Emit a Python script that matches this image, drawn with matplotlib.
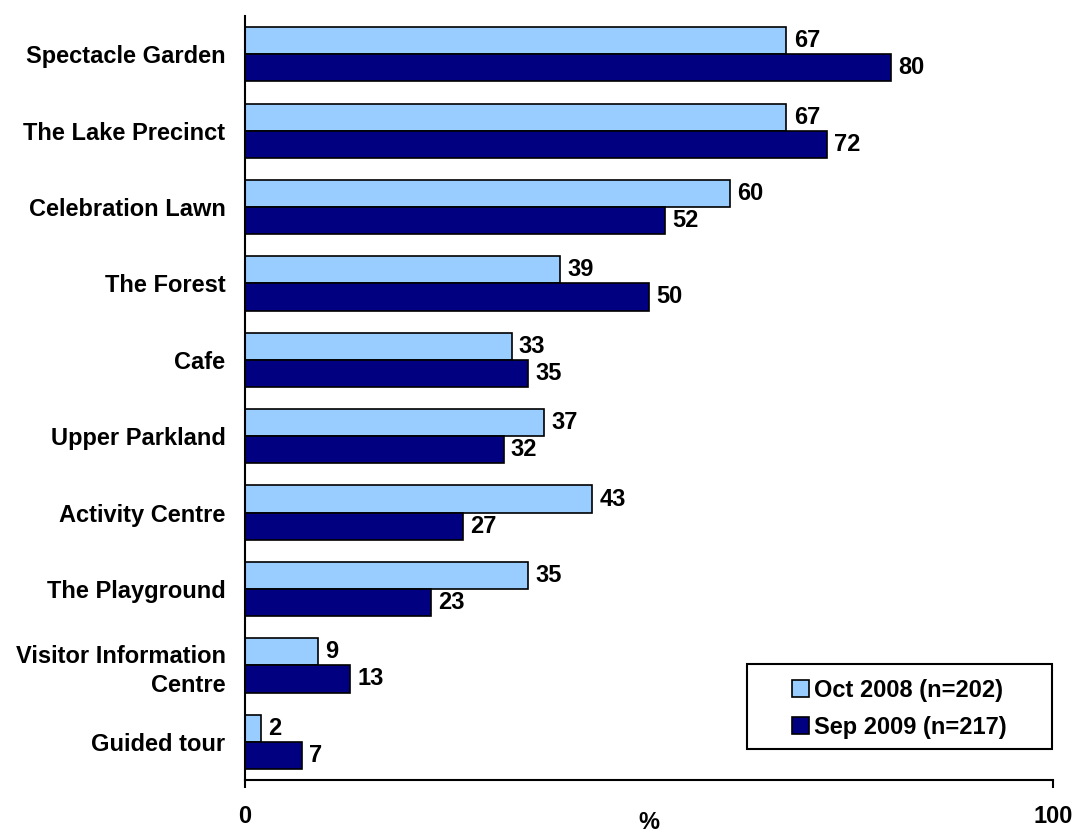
import numpy as np
import matplotlib
matplotlib.use("Agg")
from matplotlib import pyplot as plt
from matplotlib.patches import Rectangle

plt.rcParams['font.family'] = ['Liberation Sans', 'DejaVu Sans']
plt.rcParams['font.weight'] = 'bold'

# Areas visited, two survey waves
areas = ["Spectacle Garden", "The Lake Precinct", "Celebration Lawn", "The Forest",
         "Cafe", "Upper Parkland", "Activity Centre", "The Playground",
         "Visitor Information\nCentre", "Guided tour"]
oct_2008 = [67, 67, 60, 39, 33, 37, 43, 35, 9, 2]
sep_2009 = [80, 72, 52, 50, 35, 32, 27, 23, 13, 7]
series_names = ["Oct 2008 (n=202)", "Sep 2009 (n=217)"]

fs = 17
fig = plt.figure(figsize=(10.73, 8.35), dpi=100)
ax = fig.add_axes([0.2283, 0.0659, 0.7531, 0.9149])

y = np.arange(len(areas))
h = 0.355
b1 = ax.barh(y - h / 2, oct_2008, height=h, color='#99CCFF', edgecolor='black',
             linewidth=1.2, label=series_names[0])
b2 = ax.barh(y + h / 2, sep_2009, height=h, color='#000080', edgecolor='black',
             linewidth=1.2, label=series_names[1])

for bars, vals in ((b1, oct_2008), (b2, sep_2009)):
    for rect, v in zip(bars, vals):
        ax.text(v + 0.9, rect.get_y() + rect.get_height() / 2, str(v),
                va='center', ha='left', fontsize=fs, fontweight='bold')

ax.set_xlim(0, 100)
ax.set_ylim(len(areas) - 0.5, -0.5)
ax.set_yticks(y)
ax.set_yticklabels(areas, fontsize=fs, fontweight='bold', ha='right', linespacing=1.35)
ax.tick_params(axis='y', length=0, pad=14)
ax.set_xticks([0, 100])
ax.set_xticklabels(['0', '100'], fontsize=fs, fontweight='bold')
ax.tick_params(axis='x', length=6, width=1.5, direction='out', pad=12)
ax.set_xlabel('%', fontsize=fs, fontweight='bold', va='center')
ax.xaxis.set_label_coords(0.5, -0.056)

for side in ('top', 'right'):
    ax.spines[side].set_visible(False)
for side in ('left', 'bottom'):
    ax.spines[side].set_linewidth(1.5)

# legend box drawn separately so the entries sit centred with wide margins
ax.add_patch(Rectangle((0.6213, 0.0406), 0.3775, 0.1113, transform=ax.transAxes,
                       facecolor='white', edgecolor='black', linewidth=1.5,
                       clip_on=False, zorder=4))
leg = ax.legend(loc='center', bbox_to_anchor=(0.8100, 0.0929), fontsize=fs,
                frameon=False, handlelength=0.72, handleheight=0.72,
                handletextpad=0.2, labelspacing=0.6, borderaxespad=0)
leg.set_zorder(5)
for t in leg.get_texts():
    t.set_fontweight('bold')

fig.savefig('out.png', dpi=100)
